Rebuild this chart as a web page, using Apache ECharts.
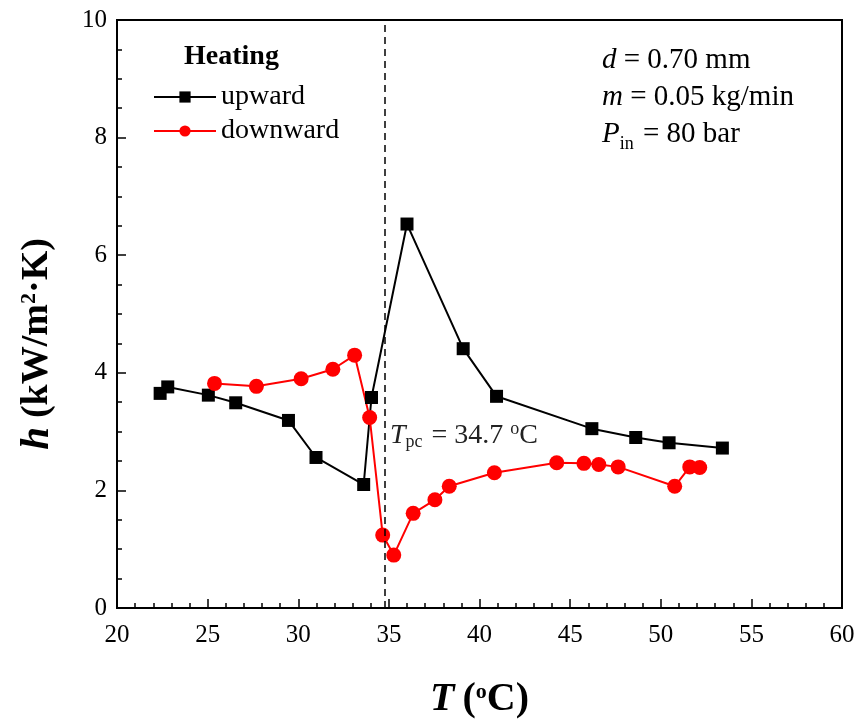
<!DOCTYPE html>
<html>
<head>
<meta charset="utf-8">
<script src="https://cdn.jsdelivr.net/npm/echarts@6/dist/echarts.min.js"></script>
<style>
  html, body { margin: 0; padding: 0; background: #fff; }
  #chart { width: 860px; height: 720px; }
</style>
</head>
<body>
<div id="chart"></div>
<script>
// upward flow, heating
const upwardT = [22.38, 22.8, 25.04, 26.55, 29.46, 30.98, 33.61, 34.04, 36.0, 39.1, 40.94, 46.2, 48.62, 50.46, 53.4]
const upwardH = [3.65, 3.76, 3.62, 3.49, 3.19, 2.56, 2.1, 3.58, 6.53, 4.41, 3.6, 3.05, 2.9, 2.81, 2.72]
// downward flow, heating
const downwardT = [25.38, 27.69, 30.16, 31.91, 33.11, 33.94, 34.66, 35.27, 36.34, 37.54, 38.33, 40.82, 44.26, 45.76, 46.58, 47.65, 50.77, 51.6, 52.15]
const downwardH = [3.82, 3.77, 3.9, 4.06, 4.3, 3.24, 1.24, 0.9, 1.61, 1.84, 2.07, 2.3, 2.47, 2.46, 2.44, 2.4, 2.07, 2.4, 2.39]
const tpc = 34.8

const serif = 'Liberation Serif'

function pairs(xs, ys) {
  return xs.map((x, i) => [x, ys[i]])
}

let chart = echarts.init(document.getElementById('chart'))
let option = {
  animation: false,
  textStyle: { fontFamily: serif, color: '#000' },
  grid: {
    left: 117, right: 18, top: 20, bottom: 112,
    outerBoundsMode: 'none',
    show: true, borderColor: '#000', borderWidth: 2
  },
  legend: {
    left: 148, top: 78,
    orient: 'vertical',
    itemWidth: 62, itemHeight: 14, itemGap: 6,
    textStyle: { fontFamily: serif, fontSize: 28, color: '#000' },
    data: ['upward', 'downward']
  },
  xAxis: {
    type: 'value', min: 20, max: 60, interval: 5,
    name: '{i|T}{b|(}{sup|o}{b|C)}',
    nameLocation: 'middle', nameGap: 72,
    nameTextStyle: {
      rich: {
        i: { fontFamily: serif, fontSize: 40, fontWeight: 'bold', fontStyle: 'italic', color: '#000', padding: [0, 8, 0, 0] },
        b: { fontFamily: serif, fontSize: 40, fontWeight: 'bold', color: '#000' },
        sup: { fontFamily: serif, fontSize: 22, fontWeight: 'bold', color: '#000', padding: [0, 0, 16, 0] }
      }
    },
    axisLine: { lineStyle: { color: '#000', width: 2 } },
    axisTick: { inside: true, length: 9, lineStyle: { color: '#000', width: 1.5 } },
    minorTick: { show: true, splitNumber: 5, length: 5, lineStyle: { color: '#000', width: 1.5 } },
    axisLabel: { fontFamily: serif, fontSize: 25, color: '#000', margin: 15 },
    splitLine: { show: false }
  },
  yAxis: {
    type: 'value', min: 0, max: 10, interval: 2,
    axisLine: { lineStyle: { color: '#000', width: 2 } },
    axisTick: { inside: true, length: 9, lineStyle: { color: '#000', width: 1.5 } },
    minorTick: { show: true, splitNumber: 4, length: 5, lineStyle: { color: '#000', width: 1.5 } },
    axisLabel: { fontFamily: serif, fontSize: 25, color: '#000', margin: 10 },
    splitLine: { show: false }
  },
  graphic: [
    {
      // y axis title, set by hand so it sits where the original does
      type: 'text', x: 37, y: 344, rotation: Math.PI / 2,
      style: {
        text: '{i|h}{b|(kW/m}{sup|2}{b|·K)}',
        align: 'center', verticalAlign: 'middle',
        rich: {
          i: { fontFamily: serif, fontSize: 41, fontWeight: 'bold', fontStyle: 'italic', fill: '#000', padding: [0, 9, 0, 0] },
          b: { fontFamily: serif, fontSize: 38, fontWeight: 'bold', fill: '#000' },
          sup: { fontFamily: serif, fontSize: 22, fontWeight: 'bold', fill: '#000', padding: [0, 0, 16, 0] }
        }
      }
    },
    {
      type: 'text', left: 184, top: 43,
      style: { text: 'Heating', fontFamily: serif, fontSize: 28, fontWeight: 'bold', fill: '#000' }
    },
    {
      type: 'text', left: 602, top: 42,
      style: {
        text: '{i|d} = 0.70 mm\n{i|m} = 0.05 kg/min\n{i|P}{sub|in} = 80 bar',
        fontFamily: serif, fontSize: 29, fill: '#000', lineHeight: 37,
        rich: {
          i: { fontFamily: serif, fontSize: 29, fontStyle: 'italic', fill: '#000', lineHeight: 37 },
          sub: { fontFamily: serif, fontSize: 18, fill: '#000', lineHeight: 37, padding: [0, 2, 0, 0], verticalAlign: 'bottom' }
        }
      }
    },
    {
      type: 'text', left: 390, top: 420,
      style: {
        text: '{i|T}{sub|pc} = 34.7 {sup|o}C',
        fontFamily: serif, fontSize: 28, fill: '#222',
        rich: {
          i: { fontFamily: serif, fontSize: 28, fontStyle: 'italic', fill: '#222' },
          sub: { fontFamily: serif, fontSize: 18, fill: '#222', padding: [12, 2, 0, 0] },
          sup: { fontFamily: serif, fontSize: 18, fill: '#222', padding: [0, 0, 14, 0] }
        }
      }
    }
  ],
  series: [
    {
      name: 'upward', type: 'line',
      data: pairs(upwardT, upwardH),
      symbol: 'rect', symbolSize: 13,
      lineStyle: { color: '#000', width: 2 },
      itemStyle: { color: '#000' },
      markLine: {
        silent: true, symbol: 'none',
        label: { show: false },
        lineStyle: { color: '#000', type: [7, 5], width: 1.5 },
        data: [{ xAxis: tpc }]
      }
    },
    {
      name: 'downward', type: 'line',
      data: pairs(downwardT, downwardH),
      symbol: 'circle', symbolSize: 15,
      lineStyle: { color: '#ff0000', width: 2 },
      itemStyle: { color: '#ff0000' }
    }
  ]
}
option && chart.setOption(option)
</script>
</body>
</html>
